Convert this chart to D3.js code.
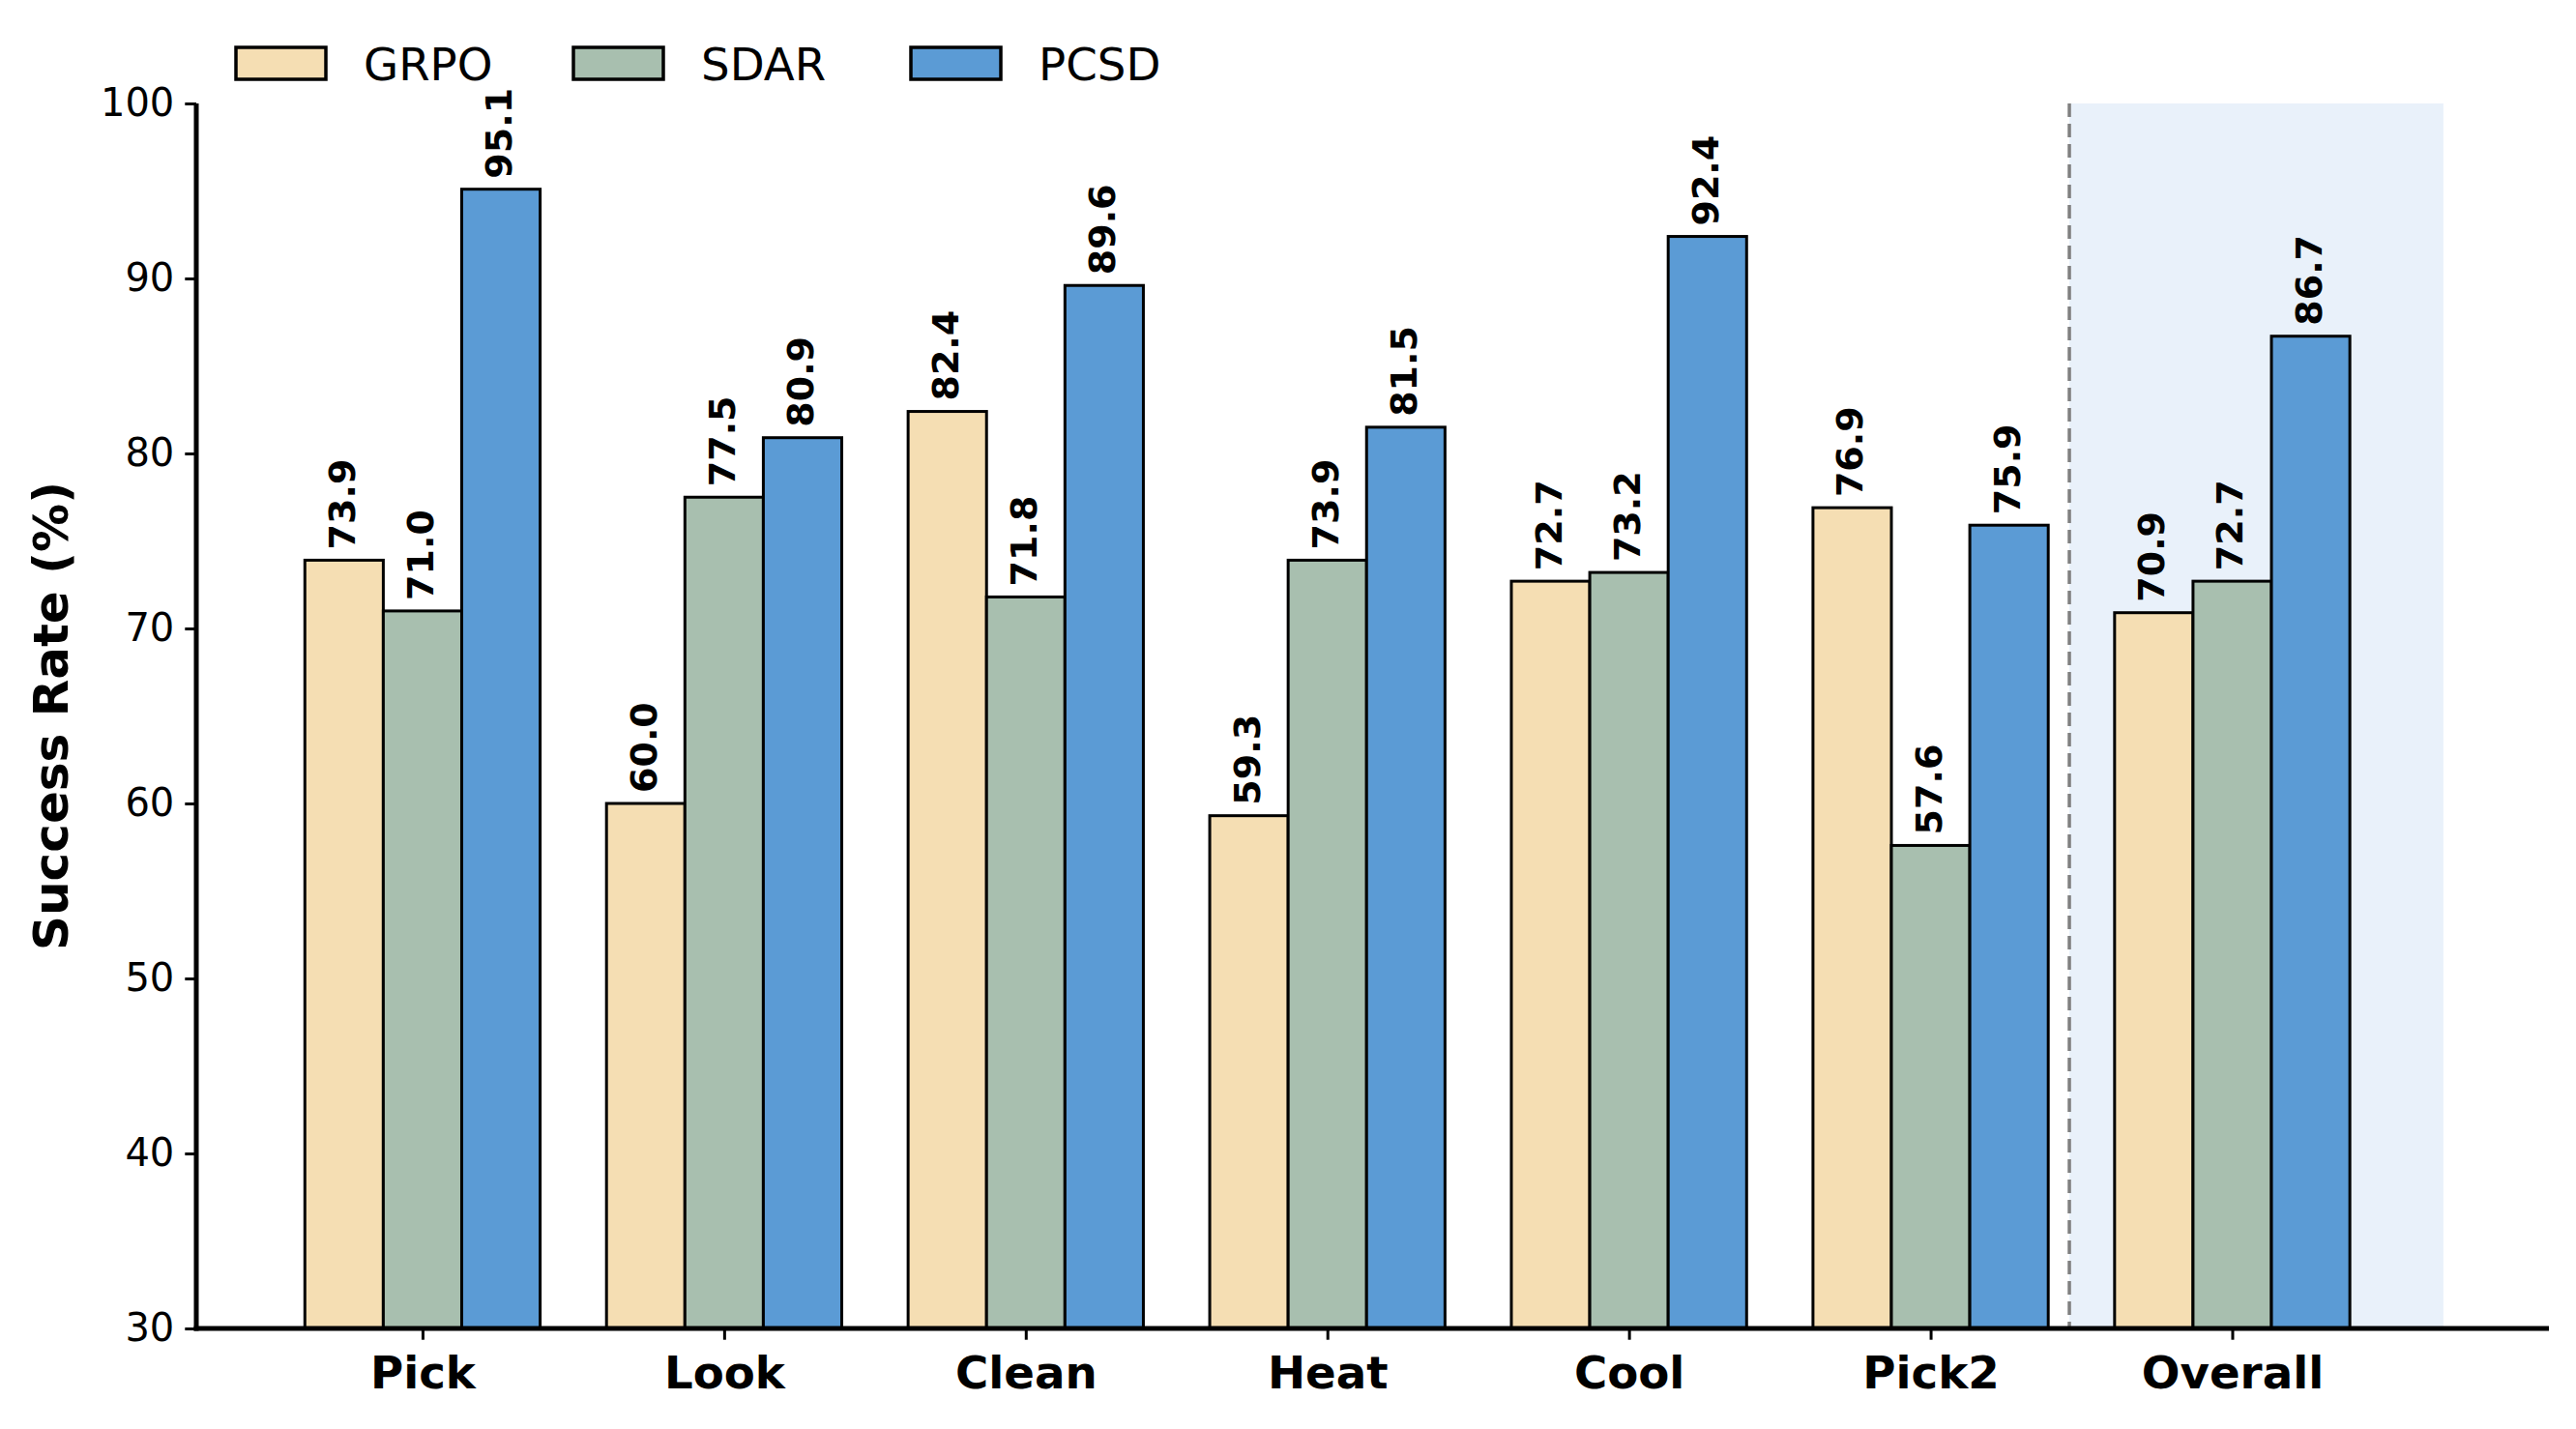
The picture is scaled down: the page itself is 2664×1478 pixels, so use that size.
<!DOCTYPE html>
<html>
<head>
<meta charset="utf-8">
<script src="https://cdn.jsdelivr.net/npm/d3@7"></script>
<style>
	body { margin: 0; background: #fff; }
	text { font-family: "DejaVu Sans", sans-serif; }
</style>
</head>
<body>
<div id="graphicContainer"></div>
<script>

var categories = ["Pick", "Look", "Clean", "Heat", "Cool", "Pick2", "Overall"]
var seriesNames = ["GRPO", "SDAR", "PCSD"]
var grpo = [73.9, 60.0, 82.4, 59.3, 72.7, 76.9, 70.9]
var sdar = [71.0, 77.5, 71.8, 73.9, 73.2, 57.6, 72.7]
var pcsd = [95.1, 80.9, 89.6, 81.5, 92.4, 75.9, 86.7]
var yTicks = [30, 40, 50, 60, 70, 80, 90, 100]
var colors = ["#f5deb3", "#a8bfaf", "#5b9bd5"]

var series = [grpo, sdar, pcsd]

var width = 2664
var height = 1478
var margin = {top: 107, right: 28, bottom: 104, left: 203}

var svg = d3.select("#graphicContainer").append("svg")
	.attr("width", width)
	.attr("height", height)

// index scale, matplotlib style (bars at i + offset)
var x = d3.scaleLinear()
	.domain([-0.75, 7.05])
	.range([margin.left, width - margin.right])

var y = d3.scaleLinear()
	.domain([30, 100])
	.range([height - margin.bottom, margin.top])

var barW = 0.26

// shaded overall section + divider
svg.append("rect")
	.attr("x", x(5.46))
	.attr("y", y(100))
	.attr("width", x(6.7) - x(5.46))
	.attr("height", y(30) - y(100))
	.attr("fill", "#e9f1fa")

svg.append("line")
	.attr("x1", x(5.46))
	.attr("x2", x(5.46))
	.attr("y1", y(100))
	.attr("y2", y(30))
	.attr("stroke", "#808080")
	.attr("stroke-width", 3.5)
	.attr("stroke-dasharray", "14,7")

var groups = svg.selectAll(".series")
	.data(series)
	.join("g")
	.attr("class", "series")
	.attr("fill", (d, i) => colors[i])

groups.each(function(vals, s) {
	var g = d3.select(this)
	var off = (s - 1) * barW

	g.selectAll("rect")
		.data(vals)
		.join("rect")
		.attr("x", (d, i) => x(i + off - barW / 2))
		.attr("y", d => y(d))
		.attr("width", x(barW) - x(0))
		.attr("height", d => y(30) - y(d))
		.attr("stroke", "#000")
		.attr("stroke-width", 3)

	g.selectAll("text")
		.data(vals)
		.join("text")
		.attr("transform", (d, i) => `translate(${x(i + off) + 11},${y(d) - 11}) rotate(-90)`)
		.attr("fill", "#000")
		.attr("font-size", 38)
		.attr("font-weight", "bold")
		.attr("text-anchor", "start")
		.text(d => d.toFixed(1))
})

// axes
var yAxis = d3.axisLeft(y)
	.tickValues(yTicks)
	.tickSize(11.7)
	.tickPadding(11)

var xAxis = d3.axisBottom(x)
	.tickValues(d3.range(categories.length))
	.tickFormat(i => categories[i])
	.tickSize(11.7)
	.tickPadding(17)

svg.append("g")
	.attr("transform", `translate(${margin.left},0)`)
	.call(yAxis)
	.call(g => g.select(".domain").remove())
	.call(g => g.selectAll(".tick line").attr("stroke-width", 3))
	.call(g => g.selectAll(".tick text")
		.attr("font-size", 40)
		.attr("font-family", "DejaVu Sans")
		.attr("fill", "#000"))

svg.append("g")
	.attr("transform", `translate(0,${y(30)})`)
	.call(xAxis)
	.call(g => g.select(".domain").remove())
	.call(g => g.selectAll(".tick line").attr("stroke-width", 3))
	.call(g => g.selectAll(".tick text")
		.attr("font-size", 46.7)
		.attr("font-weight", "bold")
		.attr("font-family", "DejaVu Sans")
		.attr("fill", "#000"))

// spines
svg.append("line")
	.attr("x1", margin.left)
	.attr("x2", margin.left)
	.attr("y1", y(100))
	.attr("y2", y(30) + 2.5)
	.attr("stroke", "#000")
	.attr("stroke-width", 5)

svg.append("line")
	.attr("x1", margin.left - 2.5)
	.attr("x2", width - margin.right)
	.attr("y1", y(30))
	.attr("y2", y(30))
	.attr("stroke", "#000")
	.attr("stroke-width", 5)

svg.append("text")
	.attr("transform", `translate(70,${(y(30) + y(100)) / 2}) rotate(-90)`)
	.attr("text-anchor", "middle")
	.attr("font-size", 50)
	.attr("font-weight", "bold")
	.text("Success Rate (%)")

// legend
var legend = svg.append("g")
	.selectAll("g")
	.data(seriesNames)
	.join("g")
	.attr("transform", (d, i) => `translate(${244 + i * 349},49)`)

legend.append("rect")
	.attr("width", 93)
	.attr("height", 33)
	.attr("fill", (d, i) => colors[i])
	.attr("stroke", "#000")
	.attr("stroke-width", 3.5)

legend.append("text")
	.attr("x", 132)
	.attr("y", 33.5)
	.attr("font-size", 46.7)
	.text(d => d)

</script>
</body>
</html>
